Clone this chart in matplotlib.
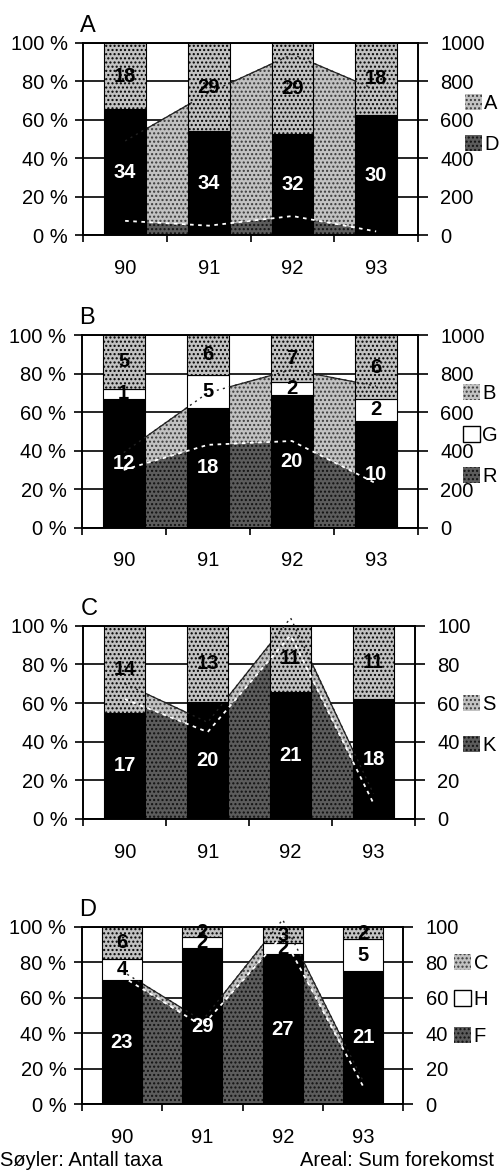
import numpy as np
import matplotlib.pyplot as plt
from matplotlib.patches import Patch

plt.rcParams['font.family'] = ['Liberation Sans', 'DejaVu Sans']
plt.rcParams['hatch.linewidth'] = 1.0

years = ['90', '91', '92', '93']

# A: bars (antall taxa) and areas (sum forekomst)
a_bar_D = [34, 34, 32, 30]
a_bar_A = [18, 29, 29, 18]
a_area_D = [75, 50, 100, 20]
a_area_A = [415, 690, 840, 735]

# B
b_bar_R = [12, 18, 20, 10]
b_bar_G = [1, 5, 2, 2]
b_bar_B = [5, 6, 7, 6]
b_area_R = [300, 430, 450, 230]
b_area_B = [90, 270, 370, 505]

# C
c_bar_K = [17, 20, 21, 18]
c_bar_S = [14, 13, 11, 11]
c_area_K = [62, 45, 95, 8]
c_area_S = [8, 5, 9, 5]

# D
d_bar_F = [23, 29, 27, 21]
d_bar_H = [4, 2, 2, 5]
d_bar_C = [6, 2, 3, 2]
d_area_F = [72, 44, 95, 10]
d_area_C = [3, 3, 9, 3]

LIGHT = dict(facecolor='#c2c2c2', hatch='....')
DARK = dict(facecolor='#5c5c5c', hatch='....')
FS = 14.5
W, H = 504, 1173

fig = plt.figure(figsize=(W / 100, H / 100), dpi=100)


def panel(px, letter, bars, areas, names, right_max, leg_xy, leg_space):
    left, right, top, bottom = px
    ax = fig.add_axes([left / W, 1 - bottom / H, (right - left) / W, (bottom - top) / H])
    ax2 = ax.twinx()
    ax.set_zorder(ax2.get_zorder() + 1)
    ax.patch.set_visible(False)
    x = np.arange(len(years))

    # areas on the right-hand scale, behind the bars
    low = np.array(areas[0], dtype=float)
    tot = low + np.array(areas[1], dtype=float)
    ax2.fill_between(x, 0, low, edgecolor='#111111', lw=0, zorder=1, **DARK)
    ax2.fill_between(x, low, tot, edgecolor='#3a3a3a', lw=0, zorder=1, **LIGHT)
    ax2.plot(x, tot, color='#222222', lw=0.9, zorder=2)
    ax2.set_ylim(0, right_max)
    ax2.set_yticks(np.linspace(0, right_max, 6))
    ax2.set_yticklabels([f'{v:g}' for v in np.linspace(0, right_max, 6)])
    ax2.yaxis.grid(True, color='black', lw=1.2)
    ax2.set_axisbelow(True)
    ax2.tick_params(axis='y', direction='out', length=7, width=1.2, pad=9, labelsize=FS)

    # stacked percentage bars
    counts = [np.array(b, dtype=float) for b in bars]
    total = sum(counts)
    styles = [dict(color='black')]
    if len(counts) == 3:
        styles.append(dict(facecolor='white'))
    styles.append(LIGHT)
    bottom_pct = np.zeros(len(years))
    for i, (c, st) in enumerate(zip(counts, styles)):
        pct = c / total * 100
        ax.bar(x, pct, 0.5, bottom=bottom_pct, edgecolor='black', lw=0.8, **st)
        for xi, p, b, v in zip(x, pct, bottom_pct, c):
            ax.text(xi, b + p / 2, f'{v:.0f}', ha='center', va='center', fontsize=FS,
                    fontweight='bold', color='white' if i == 0 else 'black', zorder=5)
        bottom_pct = bottom_pct + pct

    # edge lines of the areas, seen through the bars
    ax.plot(x, low, transform=ax2.transData, color='white', lw=1.3,
            ls=(0, (2, 2.5)), clip_on=False, zorder=4)
    ax.plot(x, tot, transform=ax2.transData, color='#222222', lw=1.0,
            ls=(0, (1.5, 3)), clip_on=False, zorder=4)

    ax.set_xlim(-0.5, len(years) - 0.5)
    ax.set_ylim(0, 100)
    ax.set_yticks(range(0, 101, 20))
    ax.set_yticklabels([f'{v} %' for v in range(0, 101, 20)])
    ax.set_xticks(np.arange(-0.5, len(years), 1))
    ax.set_xticklabels([])
    ax.set_xticks(x, minor=True)
    ax.set_xticklabels(years, minor=True)
    ax.tick_params(axis='x', which='major', direction='out', length=5, width=1.2)
    ax.tick_params(axis='x', which='minor', length=0, pad=17, labelsize=FS)
    ax.tick_params(axis='y', direction='out', length=6, width=1.2, pad=5, labelsize=FS)
    for a in (ax, ax2):
        for s in a.spines.values():
            s.set_linewidth(1.2)

    fig.text((left - 3) / W, 1 - (top - 17) / H, letter, fontsize=17, ha='left', va='center')

    # legend: top series first
    handles = [Patch(edgecolor='#3a3a3a', lw=0, **LIGHT)]
    if len(counts) == 3:
        handles.append(Patch(facecolor='white', edgecolor='black', lw=1))
    handles.append(Patch(edgecolor='#111111', lw=0, **DARK))
    ax.legend(handles, names, loc='center left', bbox_to_anchor=leg_xy, frameon=False,
              handlelength=0.85, handleheight=0.85, handletextpad=0.12, labelspacing=leg_space,
              borderpad=0, borderaxespad=0, fontsize=FS)


panel((83.3, 418, 42.7, 235.3), 'A', [a_bar_D, a_bar_A], [a_area_D, a_area_A],
      ['A', 'D'], 1000, (1.14, 0.578), 1.1)
panel((81.7, 418, 335, 527.7), 'B', [b_bar_R, b_bar_G, b_bar_B], [b_area_R, b_area_B],
      ['B', 'G', 'R'], 1000, (1.133, 0.481), 1.1)
panel((83.3, 415, 625.7, 819), 'C', [c_bar_K, c_bar_S], [c_area_K, c_area_S],
      ['S', 'K'], 100, (1.145, 0.486), 1.1)
panel((81.7, 403.3, 926.7, 1104), 'D', [d_bar_F, d_bar_H, d_bar_C], [d_area_F, d_area_C],
      ['C', 'H', 'F'], 100, (1.158, 0.587), 0.85)

fig.text(0, 1 - 1161 / H, 'Søyler: Antall taxa', fontsize=FS, ha='left', va='center')
fig.text(494 / W, 1 - 1161 / H, 'Areal: Sum forekomst', fontsize=FS, ha='right', va='center')

fig.savefig('out.png', dpi=100)
